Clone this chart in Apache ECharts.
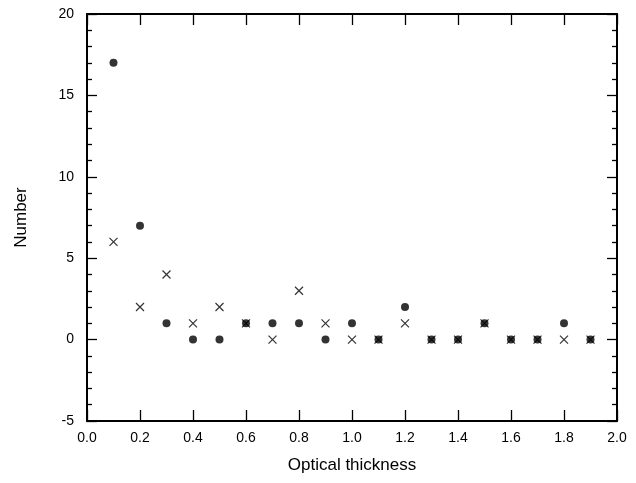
<!DOCTYPE html>
<html><head><meta charset="utf-8">
<script src="https://cdn.jsdelivr.net/npm/echarts@6/dist/echarts.min.js"></script>
<style>html,body{margin:0;padding:0;background:#fff}#c{width:636px;height:483px}</style>
</head><body><div id="c"></div>
<script>
const xValues = [0.1,0.2,0.3,0.4,0.5,0.6,0.7,0.8,0.9,1.0,1.1,1.2,1.3,1.4,1.5,1.6,1.7,1.8,1.9];
const circleValues = [17,7,1,0,0,1,1,1,0,1,0,2,0,0,1,0,0,1,0];
const crossValues = [6,2,4,1,2,1,0,3,1,0,0,1,0,0,1,0,0,0,0];
const xName = 'Optical thickness';
const yName = 'Number';

const font = 'Liberation Sans, Arial, sans-serif';
const chart = echarts.init(document.getElementById('c'), null, {renderer:'canvas'});
const axisLine = {show:true, onZero:false, lineStyle:{color:'#000', width:2}};
const tick = (len) => ({show:true, inside:true, length:len, lineStyle:{color:'#000', width:1.3}});
const minor = {show:true, splitNumber:5, length:5, lineStyle:{color:'#000', width:1.3}};
chart.setOption({
  animation:false,
  backgroundColor:'#fff',
  grid:{left:87, right:19, top:14, bottom:62, containLabel:false},
  xAxis:[
    {type:'value', position:'bottom', min:0, max:2, interval:0.2,
     name:xName, nameLocation:'middle', nameGap:36,
     nameTextStyle:{fontFamily:font, fontSize:17, color:'#000'},
     axisLine:axisLine, axisTick:tick(11), splitLine:{show:false},
     axisLabel:{fontFamily:font, fontSize:14, color:'#000', margin:10, formatter:v=>v.toFixed(1)}},
    {type:'value', position:'top', min:0, max:2, interval:0.2,
     axisLine:axisLine, axisTick:tick(11), splitLine:{show:false}, axisLabel:{show:false}}
  ],
  yAxis:[
    {type:'value', position:'left', min:-5, max:20, interval:5,
     name:yName, nameLocation:'middle', nameGap:57, nameRotate:90,
     nameTextStyle:{fontFamily:font, fontSize:17, color:'#000'},
     axisLine:axisLine, axisTick:tick(10), minorTick:minor, splitLine:{show:false}, minorSplitLine:{show:false},
     axisLabel:{fontFamily:font, fontSize:14, color:'#000', margin:13}},
    {type:'value', position:'right', min:-5, max:20, interval:5,
     axisLine:axisLine, axisTick:tick(10), minorTick:minor, splitLine:{show:false}, axisLabel:{show:false}}
  ],
  series:[
    {type:'scatter', xAxisIndex:0, yAxisIndex:0, symbol:'circle', symbolSize:8,
     itemStyle:{color:'#000'}, data:xValues.map((x,i)=>[x,circleValues[i]]), z:3},
    {type:'scatter', xAxisIndex:0, yAxisIndex:0, symbol:'path://M0,0L10,10M10,0L0,10', symbolSize:8,
     itemStyle:{color:'none', borderColor:'#000', borderWidth:1.2}, data:xValues.map((x,i)=>[x,crossValues[i]]), z:4}
  ]
});
</script></body></html>
